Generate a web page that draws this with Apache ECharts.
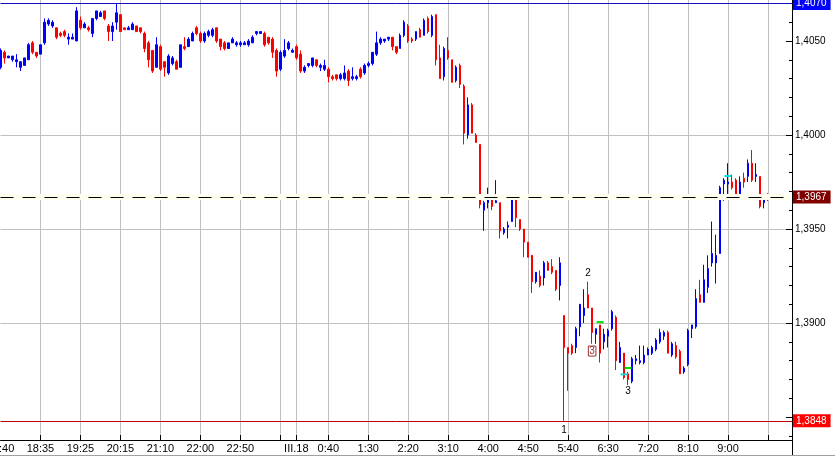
<!DOCTYPE html>
<html><head><meta charset="utf-8">
<script src="https://cdn.jsdelivr.net/npm/echarts@6/dist/echarts.min.js"></script>
<style>html,body{margin:0;padding:0;background:#fff}#c{width:835px;height:457px}</style>
</head><body><div id="c"></div>
<script>
// 5-minute candles, slot index = bar position on the time axis
const opens = [
1.4036,1.4044,1.4041,1.4040,1.4039,1.4036,1.4037,1.4040,1.4049,1.4044,
1.4043,1.4049,1.4059,1.4058,1.4057,1.4054,1.4055,1.4051,1.4051,1.4050,
1.4061,1.4057,1.4057,1.4054,1.4062,1.4063,1.4066,1.4058,1.4055,1.4060,
1.4064,1.4057,1.4056,1.4056,1.4058,1.4057,1.4054,1.4049,1.4045,1.4036,
1.4047,1.4039,1.4033,1.4038,1.4039,1.4036,1.4047,1.4047,1.4050,1.4057,
1.4054,1.4050,1.4053,1.4053,1.4057,1.4051,1.4049,1.4046,1.4049,1.4048,
1.4048,1.4048,1.4048,1.4049,1.4054,1.4054,1.4054,1.4052,1.4051,1.4045,
1.4035,1.4042,1.4046,1.4044,1.4047,1.4043,1.4034,1.4037,1.4037,1.4040,
1.4036,1.4035,1.4035,1.4031,1.4032,1.4030,1.4030,1.4034,1.4030,1.4030,
1.4035,1.4033,1.4037,1.4038,1.4043,1.4049,1.4050,1.4051,1.4052,1.4047,
1.4046,1.4053,1.4058,1.4051,1.4051,1.4056,1.4053,1.4062,1.4053,1.4064,
1.4041,1.4031,1.4045,1.4040,1.4029,1.4037,1.4026,1.4000,1.4016,1.4000,
1.3995,1.3960,1.3964,1.3967,1.3964,1.3964,1.3948,1.3951,1.3954,1.3966,
1.3955,1.3950,1.3943,1.3936,1.3922,1.3925,1.3924,1.3932,1.3930,1.3928,
1.3920,1.3904,1.3887,1.3888,1.3887,1.3898,1.3904,1.3915,1.3908,1.3894,
1.3899,1.3890,1.3893,1.3897,1.3903,1.3879,1.3884,1.3873,1.3869,1.3880,
1.3879,1.3879,1.3883,1.3884,1.3886,1.3890,1.3893,1.3895,1.3883,1.3888,
1.3885,1.3874,1.3878,1.3897,1.3898,1.3915,1.3911,1.3919,1.3932,1.3932,
1.3937,1.3974,1.3974,1.3975,1.3976,1.3967,1.3977,1.3978,1.3985,1.3978,
1.3978,1.3964,1.3966];
const closes = [
1.4045,1.4041,1.4042,1.4042,1.4040,1.4039,1.4041,1.4048,1.4044,1.4042,
1.4048,1.4060,1.4061,1.4060,1.4052,1.4053,1.4053,1.4052,1.4052,1.4066,
1.4057,1.4059,1.4056,1.4062,1.4066,1.4065,1.4062,1.4055,1.4058,1.4065,
1.4055,1.4056,1.4057,1.4059,1.4055,1.4055,1.4046,1.4040,1.4034,1.4048,
1.4035,1.4036,1.4042,1.4041,1.4035,1.4048,1.4046,1.4051,1.4054,1.4054,
1.4050,1.4054,1.4055,1.4056,1.4050,1.4047,1.4046,1.4049,1.4051,1.4049,
1.4049,1.4049,1.4050,1.4052,1.4055,1.4055,1.4048,1.4049,1.4044,1.4034,
1.4044,1.4045,1.4049,1.4045,1.4041,1.4034,1.4036,1.4038,1.4041,1.4037,
1.4037,1.4037,1.4031,1.4030,1.4030,1.4032,1.4033,1.4029,1.4031,1.4031,
1.4031,1.4037,1.4038,1.4044,1.4049,1.4051,1.4051,1.4052,1.4047,1.4044,
1.4053,1.4060,1.4050,1.4050,1.4055,1.4052,1.4061,1.4055,1.4063,1.4040,
1.4030,1.4046,1.4041,1.4028,1.4036,1.4027,1.4001,1.4016,1.4001,1.3996,
1.3963,1.3964,1.3968,1.3962,1.3965,1.3949,1.3950,1.3952,1.3966,1.3956,
1.3950,1.3943,1.3935,1.3922,1.3927,1.3920,1.3932,1.3928,1.3927,1.3918,
1.3932,1.3887,1.3884,1.3884,1.3897,1.3910,1.3908,1.3908,1.3895,1.3897,
1.3884,1.3894,1.3896,1.3906,1.3880,1.3887,1.3871,1.3870,1.3881,1.3881,
1.3880,1.3883,1.3886,1.3887,1.3891,1.3895,1.3895,1.3884,1.3889,1.3882,
1.3873,1.3876,1.3896,1.3899,1.3913,1.3911,1.3923,1.3929,1.3937,1.3936,
1.3972,1.3976,1.3975,1.3972,1.3967,1.3975,1.3975,1.3985,1.3976,1.3979,
1.3962,1.3967,1.3967];
const lows = [
1.4035,1.4038,1.4041,1.4039,1.4036,1.4034,1.4037,1.4040,1.4043,1.4041,
1.4043,1.4048,1.4058,1.4057,1.4051,1.4052,1.4052,1.4048,1.4051,1.4050,
1.4056,1.4057,1.4055,1.4052,1.4061,1.4063,1.4061,1.4050,1.4050,1.4056,
1.4055,1.4056,1.4056,1.4056,1.4055,1.4054,1.4044,1.4036,1.4033,1.4036,
1.4034,1.4031,1.4032,1.4037,1.4035,1.4036,1.4045,1.4047,1.4050,1.4053,
1.4049,1.4049,1.4052,1.4052,1.4049,1.4045,1.4045,1.4046,1.4049,1.4047,
1.4047,1.4048,1.4047,1.4049,1.4053,1.4054,1.4047,1.4048,1.4041,1.4031,
1.4034,1.4041,1.4045,1.4044,1.4040,1.4033,1.4033,1.4036,1.4036,1.4036,
1.4034,1.4034,1.4028,1.4029,1.4029,1.4029,1.4029,1.4026,1.4029,1.4029,
1.4030,1.4032,1.4036,1.4037,1.4042,1.4048,1.4049,1.4050,1.4045,1.4043,
1.4046,1.4052,1.4049,1.4049,1.4050,1.4052,1.4053,1.4054,1.4052,1.4037,
1.4030,1.4029,1.4040,1.4028,1.4028,1.4025,1.3995,1.3998,1.4001,1.3996,
1.3961,1.3949,1.3961,1.3960,1.3964,1.3945,1.3947,1.3945,1.3954,1.3951,
1.3949,1.3935,1.3935,1.3916,1.3921,1.3919,1.3920,1.3928,1.3926,1.3917,
1.3912,1.3848,1.3864,1.3883,1.3884,1.3893,1.3900,1.3908,1.3889,1.3889,
1.3879,1.3886,1.3887,1.3896,1.3875,1.3879,1.3870,1.3867,1.3868,1.3878,
1.3878,1.3878,1.3883,1.3883,1.3885,1.3889,1.3891,1.3884,1.3882,1.3881,
1.3873,1.3873,1.3877,1.3892,1.3897,1.3911,1.3911,1.3916,1.3930,1.3921,
1.3937,1.3965,1.3966,1.3971,1.3966,1.3966,1.3972,1.3975,1.3975,1.3975,
1.3961,1.3961,1.3965];
const highs = [
1.4046,1.4045,1.4042,1.4042,1.4043,1.4039,1.4041,1.4049,1.4050,1.4044,
1.4048,1.4062,1.4062,1.4061,1.4057,1.4055,1.4056,1.4054,1.4054,1.4068,
1.4063,1.4060,1.4058,1.4062,1.4066,1.4066,1.4066,1.4059,1.4060,1.4070,
1.4064,1.4057,1.4058,1.4060,1.4058,1.4057,1.4055,1.4050,1.4045,1.4052,
1.4048,1.4039,1.4043,1.4042,1.4040,1.4048,1.4052,1.4052,1.4055,1.4058,
1.4055,1.4055,1.4056,1.4057,1.4057,1.4051,1.4050,1.4049,1.4052,1.4050,
1.4050,1.4050,1.4051,1.4053,1.4055,1.4055,1.4055,1.4052,1.4052,1.4046,
1.4045,1.4051,1.4050,1.4046,1.4048,1.4045,1.4037,1.4038,1.4041,1.4040,
1.4038,1.4040,1.4036,1.4032,1.4032,1.4033,1.4037,1.4035,1.4036,1.4032,
1.4036,1.4038,1.4039,1.4044,1.4055,1.4052,1.4051,1.4052,1.4052,1.4047,
1.4054,1.4061,1.4059,1.4052,1.4055,1.4057,1.4062,1.4063,1.4064,1.4064,
1.4048,1.4047,1.4052,1.4040,1.4037,1.4038,1.4027,1.4020,1.4017,1.4001,
1.3995,1.3965,1.3972,1.3967,1.3976,1.3964,1.3951,1.3954,1.3967,1.3966,
1.3955,1.3950,1.3943,1.3936,1.3927,1.3928,1.3933,1.3933,1.3934,1.3928,
1.3935,1.3904,1.3887,1.3889,1.3898,1.3910,1.3918,1.3922,1.3908,1.3897,
1.3899,1.3897,1.3897,1.3907,1.3904,1.3890,1.3884,1.3874,1.3882,1.3883,
1.3888,1.3888,1.3887,1.3888,1.3892,1.3897,1.3896,1.3896,1.3890,1.3890,
1.3886,1.3877,1.3897,1.3899,1.3918,1.3923,1.3931,1.3936,1.3954,1.3947,
1.3973,1.3977,1.3985,1.3979,1.3977,1.3978,1.3980,1.3987,1.3992,1.3985,
1.3978,1.3968,1.3969];

const slotCount = 199;
const timeLabels = {0:'17:40',10:'18:35',20:'19:25',30:'20:15',40:'21:10',50:'22:00',60:'22:50',
  74:'III.18',82:'0:40',92:'1:30',102:'2:20',112:'3:10',122:'4:00',132:'4:50',142:'5:40',
  152:'6:30',162:'7:20',172:'8:10',182:'9:00'};
const tickSlots = [10,20,30,40,50,60,70,74,82,92,102,112,122,132,142,152,162,172,182,192];

const priceLabels = [1.3900,1.3950,1.4000,1.4050];
const majorTicks = [1.3850,1.3900,1.3950,1.4000,1.4050];
const minorTicks = [1.384,1.386,1.387,1.388,1.389,1.391,1.392,1.393,1.394,1.396,1.397,1.398,1.399,
  1.401,1.402,1.403,1.404,1.406,1.407];
const yMin = 1.38378, yMax = 1.40718;

const levelTop = 1.4070, levelLast = 1.3967, levelLow = 1.3848;

const noteTexts = [
  {slot:141, price:1.3843, text:'1', color:'#000'},
  {slot:147, price:1.39263, text:'2', color:'#000'},
  {slot:157, price:1.38636, text:'3', color:'#000'},
  {slot:148, price:1.38851, text:'3', color:'#993333', boxed:true}
];
const noteDashes = [
  {slot:150, price:1.39005, color:'#00e000'},
  {slot:157, price:1.38761, color:'#00e000'},
  {slot:156, price:1.38727, color:'#00e0e0'},
  {slot:182, price:1.39782, color:'#00e0e0'}
];

const fmt = v => v.toFixed(4).replace('.', ',');
const cats = Array.from({length: slotCount}, (_, i) => String(i));
const candles = opens.map((o, i) => [o, closes[i], lows[i], highs[i]]);
const FONT = 'Liberation Sans';

const chart = echarts.init(document.getElementById('c'), null, {renderer:'canvas'});
chart.setOption({
  animation: false,
  backgroundColor: '#ffffff',
  grid: {left: 0.5, right: 43, top: 0, bottom: 17, containLabel: false, outerBoundsMode: 'none'},
  xAxis: {
    type: 'category', data: cats, boundaryGap: false,
    axisLine: {lineStyle: {color: '#000', width: 1}},
    axisTick: {inside: true, length: 5, interval: (i) => tickSlots.includes(i), lineStyle: {color: '#000'}},
    axisLabel: {interval: (i) => timeLabels[i] !== undefined, formatter: (v, i) => timeLabels[i] || '',
      color: '#000', fontSize: 11, margin: 3, fontFamily: FONT},
    splitLine: {show: true, interval: (i) => tickSlots.includes(i), lineStyle: {color: '#c0c0c0', width: 1}}
  },
  yAxis: [{
    type: 'value', position: 'right', min: yMin, max: yMax, splitNumber: 5,
    axisLine: {show: true, lineStyle: {color: '#000'}},
    axisTick: {show: true, inside: true, length: 6, customValues: majorTicks, lineStyle: {color: '#000'}},
    axisLabel: {customValues: priceLabels, formatter: fmt, color: '#000', fontSize: 10, margin: 3, fontFamily: FONT},
    splitLine: {show: true, showMinLine: false, showMaxLine: false, lineStyle: {color: '#c0c0c0', width: 1}}
  }, {
    type: 'value', position: 'right', min: yMin, max: yMax,
    axisLine: {show: false},
    axisTick: {show: true, inside: true, length: 3, customValues: minorTicks, lineStyle: {color: '#000'}},
    axisLabel: {show: false},
    splitLine: {show: false}
  }],
  series: [{
    type: 'candlestick', data: candles, barWidth: 2,
    itemStyle: {color: '#0000ff', color0: '#ff0000', borderColor: '#0000ff', borderColor0: '#ff0000', borderWidth: 1},
    markLine: {
      symbol: ['none', 'none'], silent: true, animation: false, precision: 4,
      data: [
        {yAxis: levelLast, lineStyle: {color: '#fffff0', type: 'solid', width: 6}, label: {show: false}},
        {yAxis: levelTop, lineStyle: {color: '#1010c0', type: 'solid', width: 1},
          label: {show: true, position: 'end', distance: 1, formatter: () => fmt(levelTop), backgroundColor: '#0000ff',
            color: '#fff', fontSize: 10, fontFamily: FONT, padding: [2, 4, 1, 3]}},
        {yAxis: levelLast, lineStyle: {color: '#000', type: [13, 9], width: 1},
          label: {show: true, position: 'end', distance: 1, formatter: () => fmt(levelLast), backgroundColor: '#800000',
            color: '#fff', fontSize: 10, fontFamily: FONT, padding: [2, 4, 1, 3]}},
        {yAxis: levelLow, lineStyle: {color: '#c00000', type: 'solid', width: 1},
          label: {show: true, position: 'end', distance: 1, formatter: () => fmt(levelLow), backgroundColor: '#ff0000',
            color: '#fff', fontSize: 10, fontFamily: FONT, padding: [2, 4, 1, 3]}}
      ]
    },
    markPoint: {
      silent: true, animation: false,
      data: noteTexts.map(n => ({
        coord: [String(n.slot), n.price], symbol: 'circle', symbolSize: 1,
        itemStyle: {color: 'rgba(0,0,0,0)'},
        label: {show: true, position: 'inside', formatter: n.text, color: n.color, fontSize: 10, fontFamily: FONT,
          borderColor: n.boxed ? n.color : 'transparent', borderWidth: n.boxed ? 1 : 0, padding: n.boxed ? [0, 1] : 0}
      })).concat(noteDashes.map(d => ({
        coord: [String(d.slot), d.price], symbol: 'rect', symbolSize: [7, 2],
        itemStyle: {color: d.color}, label: {show: false}
      })))
    }
  }],
  graphic: [
    {type: 'line', shape: {x1: 0, y1: 455.5, x2: 835, y2: 455.5}, style: {stroke: '#a0a0a0', lineWidth: 1}},
    {type: 'line', shape: {x1: 792.5, y1: 440, x2: 792.5, y2: 455}, style: {stroke: '#000', lineWidth: 1}}
  ]
});
</script></body></html>
